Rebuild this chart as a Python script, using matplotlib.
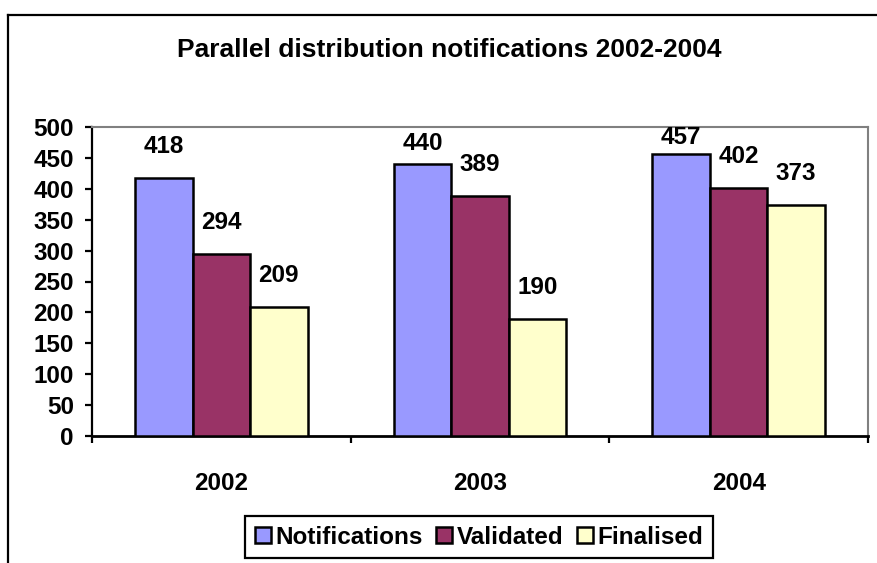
import matplotlib.pyplot as plt
import numpy as np
from matplotlib.lines import Line2D

years = ['2002', '2003', '2004']
series = ['Notifications', 'Validated', 'Finalised']
notifications = [418, 440, 457]
validated = [294, 389, 402]
finalised = [209, 190, 373]
colors = ['#9999FF', '#993366', '#FFFFCC']

plt.rcParams['font.family'] = ['Liberation Sans', 'DejaVu Sans']
plt.rcParams['font.weight'] = 'bold'

W, H = 877, 563
fig = plt.figure(figsize=(W / 100, H / 100), dpi=100)
ax = fig.add_axes([92 / W, 1 - 436 / H, (868 - 92) / W, (436 - 127) / H])

# outer chart frame (cut off at the right and bottom)
fig.add_artist(Line2D([8 / W, 8 / W], [0, 1 - 15 / H], color='black', lw=1.6))
fig.add_artist(Line2D([8 / W, 1], [1 - 15 / H, 1 - 15 / H], color='black', lw=1.6))

x = np.arange(len(years)) + 0.5
bw = 1 / 4.5
values = [notifications, validated, finalised]
ymax = 500
px_per_unit = (436 - 127) / ymax
for i, (name, vals) in enumerate(zip(series, values)):
    pos = x + (i - 1) * bw
    ax.bar(pos, vals, width=bw, color=colors[i], edgecolor='black', linewidth=1.8,
           label=name, zorder=3)
    for p, v in zip(pos, vals):
        space = (ymax - v) * px_per_unit
        off = float(np.clip(space - 28, 5, 20)) * 0.72
        ax.annotate(str(v), (p, v), xytext=(0, off), textcoords='offset points',
                    ha='center', va='bottom', fontsize=17.5, fontweight='bold')

ax.set_xlim(0, 3)
ax.set_ylim(0, ymax)
ax.set_yticks(np.arange(0, 501, 50))
ax.set_xticks([0, 1, 2, 3])
ax.set_xticklabels([])
ax.set_xticks(x, minor=True)
ax.set_xticklabels(years, minor=True)
ax.tick_params(axis='x', which='major', direction='out', length=5, width=1.6)
ax.tick_params(axis='x', which='minor', length=0, pad=26, labelsize=17.5)
ax.tick_params(axis='y', direction='out', length=5, width=1.6, pad=8, labelsize=17.5)
for lab in ax.get_xticklabels(minor=True) + ax.get_yticklabels():
    lab.set_fontweight('bold')

ax.spines['left'].set_linewidth(1.6)
ax.spines['bottom'].set_linewidth(2)
ax.spines['top'].set_color('#808080')
ax.spines['right'].set_color('#808080')
ax.spines['top'].set_linewidth(1.5)
ax.spines['right'].set_linewidth(1.5)

fig.text(449 / W, 1 - 50 / H, 'Parallel distribution notifications 2002-2004',
         ha='center', va='center', fontsize=19, fontweight='bold')

leg = fig.legend(loc='center', bbox_to_anchor=(479 / W, 1 - 537 / H), ncol=3,
                 fontsize=17.5, handlelength=0.65, handleheight=0.65,
                 handletextpad=0.2, columnspacing=0.55, borderpad=0.4,
                 fancybox=False, edgecolor='black', framealpha=1)
leg.get_frame().set_linewidth(1.6)
for t in leg.get_texts():
    t.set_fontweight('bold')

fig.savefig('out.png', dpi=100)
